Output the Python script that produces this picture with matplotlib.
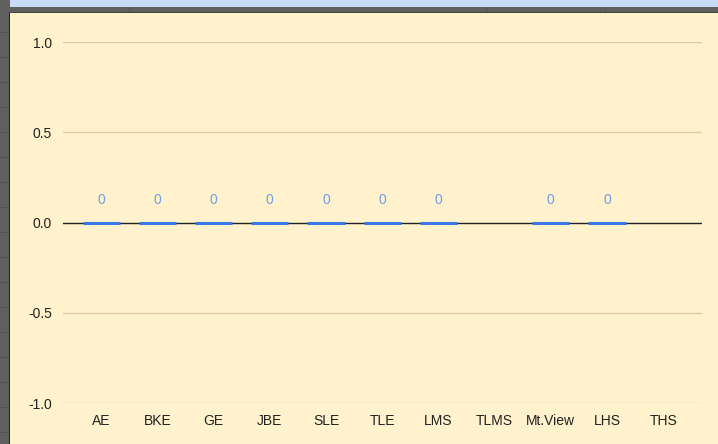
import matplotlib.pyplot as plt
from matplotlib.patches import Rectangle

categories = ['AE', 'BKE', 'GE', 'JBE', 'SLE', 'TLE', 'LMS', 'TLMS', 'Mt.View', 'LHS', 'THS']
values = [0, 0, 0, 0, 0, 0, 0, None, 0, 0, None]
y_ticks = [-1.0, -0.5, 0.0, 0.5, 1.0]

W, H = 718, 444
fig = plt.figure(figsize=(W / 100, H / 100), dpi=100)
fig.patch.set_facecolor('#FFF2CC')
plt.rcParams['font.family'] = ['Liberation Sans', 'DejaVu Sans']


def strip(x, y, w, h, c, z=1):
    # rectangle given in pixels from the top-left corner
    fig.add_artist(Rectangle((x / W, 1 - (y + h) / H), w / W, h / H,
                             transform=fig.transFigure, facecolor=c,
                             linewidth=0, zorder=z))


# spreadsheet surroundings (left strip and top bar)
strip(0, 0, 10, H, '#5F5F5F', 0)
strip(0, 0, W, 13, '#5F5F5F', 0)
strip(10, 0, W, 7, '#C9DAF8')
strip(9, 12, 1.2, H, '#222222')
strip(9, 12, W, 1.2, '#444444')
for yy in range(32, H, 25):
    strip(0, yy, 9, 1, '#525252')
for xx in [129, 487, 605]:
    strip(xx, 7, 1, 5, '#555555')

ax = fig.add_axes([63 / W, 1 - 403 / H, (702 - 63) / W, (403 - 42) / H])
ax.set_facecolor('none')
ax.set_xlim(-0.68, len(categories) - 1 + 0.69)
ax.set_ylim(-1.0, 1.0)

for t in y_ticks:
    if t == 0:
        ax.axhline(t, color='#222222', linewidth=1.0, zorder=1)
    else:
        ax.axhline(t, color='#DCCBA6', linewidth=1.0, zorder=1)

for i, v in enumerate(values):
    if v is None:
        continue
    ax.hlines(v, i - 0.33, i + 0.33, color='#3B78E7', linewidth=2.2, zorder=3)
    ax.annotate(str(v), (i, v), xytext=(0, 16), textcoords='offset points',
                ha='center', va='center', fontsize=10, color='#6D9EEB')

ax.set_xticks(range(len(categories)))
ax.set_xticklabels(categories)
ax.set_yticks(y_ticks)
ax.set_yticklabels([f'{t:.1f}' for t in y_ticks])
ax.tick_params(length=0, labelsize=10, colors='#222222')
ax.tick_params(axis='y', pad=8)
ax.tick_params(axis='x', pad=8)
for s in ax.spines.values():
    s.set_visible(False)

fig.savefig('out.png', dpi=100, facecolor=fig.get_facecolor())
